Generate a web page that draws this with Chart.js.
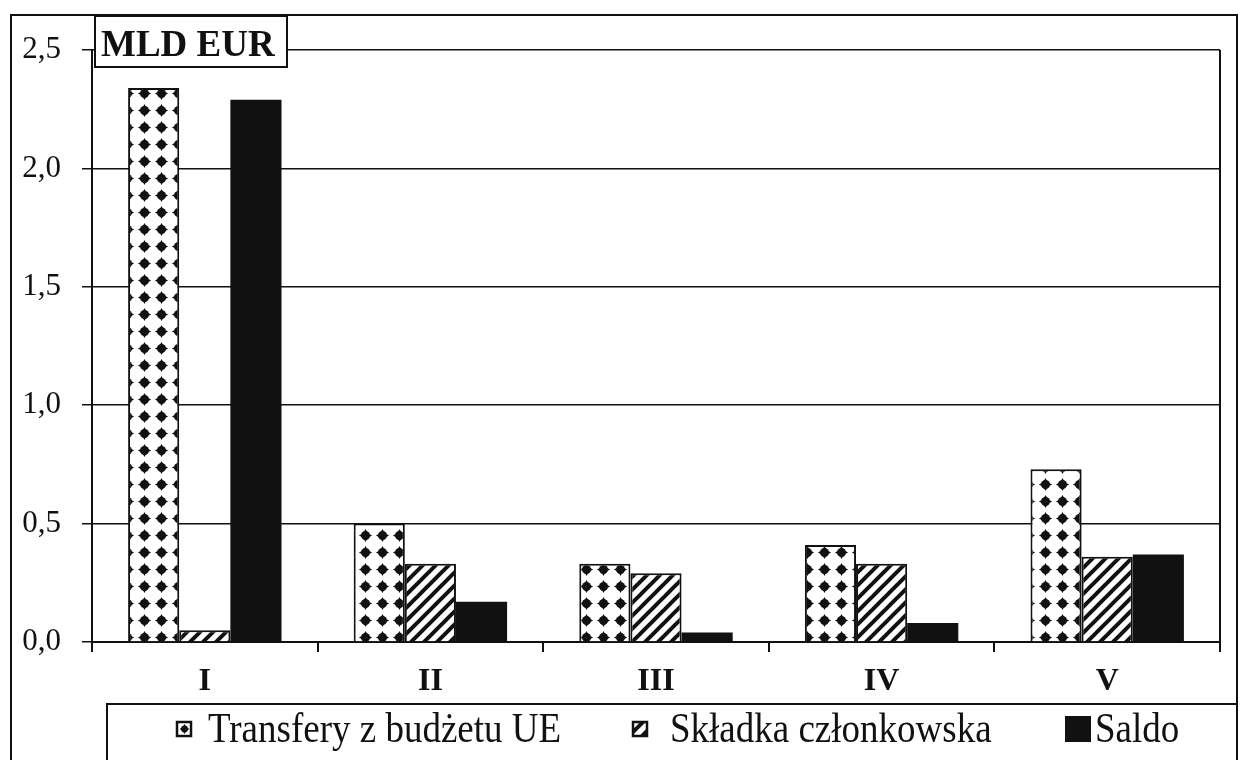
<!DOCTYPE html>
<html>
<head>
<meta charset="utf-8">
<script src="https://cdn.jsdelivr.net/npm/chart.js@4.4.1/dist/chart.umd.min.js"></script>
<style>
  html, body { margin: 0; padding: 0; background: #fff; }
  #wrap { width: 1247px; height: 760px; }
</style>
</head>
<body>
<div id="wrap"><canvas id="chart" width="1247" height="760"></canvas></div>
<script>
// data (MLD EUR)
const categories = ['I', 'II', 'III', 'IV', 'V'];
const seriesNames = ['Transfery z budżetu UE', 'Składka członkowska', 'Saldo'];
const transfery = [2.34, 0.50, 0.33, 0.41, 0.73];
const skladka = [0.05, 0.33, 0.29, 0.33, 0.36];
const saldo = [2.29, 0.17, 0.04, 0.08, 0.37];
const yTickLabels = ['0,0', '0,5', '1,0', '1,5', '2,0', '2,5'];
const unitLabel = 'MLD EUR';

const SERIF = '"Liberation Serif", "Times New Roman", serif';
const INK = '#111';

// star-shaped dot, used for the fill and the legend marker
function drawStar(g, x, y, r) {
    g.beginPath();
    g.arc(x, y, r * 0.68, 0, Math.PI * 2);
    g.fill();
    g.beginPath();
    g.moveTo(x, y - r); g.lineTo(x + r * 0.35, y - r * 0.35); g.lineTo(x + r, y);
    g.lineTo(x + r * 0.35, y + r * 0.35); g.lineTo(x, y + r); g.lineTo(x - r * 0.35, y + r * 0.35);
    g.lineTo(x - r, y); g.lineTo(x - r * 0.35, y - r * 0.35);
    g.closePath();
    g.fill();
}

// dotted fill (white with star dots)
function makeDots() {
    const c = document.createElement('canvas');
    c.width = 17; c.height = 17;
    const g = c.getContext('2d');
    g.fillStyle = '#fff';
    g.fillRect(0, 0, 17, 17);
    g.fillStyle = INK;
    drawStar(g, 8.5, 8.5, 6.6);
    return g.createPattern(c, 'repeat');
}

// diagonal hatch "/"
function makeHatch() {
    const s = 13;
    const c = document.createElement('canvas');
    c.width = s; c.height = s;
    const g = c.getContext('2d');
    g.fillStyle = '#fff';
    g.fillRect(0, 0, s, s);
    g.strokeStyle = INK;
    g.lineWidth = 4;
    [-s, 0, s].forEach(o => {
        g.beginPath();
        g.moveTo(o - 2, s + 2);
        g.lineTo(o + s + 2, -2);
        g.stroke();
    });
    return g.createPattern(c, 'repeat');
}

const dots = makeDots();
const hatch = makeHatch();

// frame, unit box, legend and outer border
const decorations = {
    id: 'decorations',
    afterDraw(chart) {
        const ctx = chart.ctx;
        const a = chart.chartArea;
        ctx.save();
        ctx.strokeStyle = INK;

        // right side of plot frame
        ctx.lineWidth = 2;
        ctx.beginPath();
        ctx.moveTo(a.right, a.top);
        ctx.lineTo(a.right, a.bottom);
        ctx.stroke();

        // outer border
        ctx.strokeRect(11, 15, 1226, 760);

        // unit label box
        ctx.fillStyle = '#fff';
        ctx.fillRect(95, 16, 192, 51);
        ctx.strokeRect(95, 16, 192, 51);
        ctx.fillStyle = INK;
        ctx.font = 'bold 37px ' + SERIF;
        ctx.textBaseline = 'alphabetic';
        ctx.save();
        ctx.translate(101, 56);
        ctx.scale(1, 1.05);
        ctx.fillText(unitLabel, 0, 0);
        ctx.restore();

        // legend box
        ctx.fillStyle = '#fff';
        ctx.fillRect(107, 704, 1130, 70);
        ctx.strokeRect(107, 704, 1130, 70);

        const cy = 729;
        ctx.lineWidth = 2.5;
        // marker 1: white square with a star dot
        ctx.fillStyle = '#fff';
        ctx.fillRect(177, cy - 7, 14, 14);
        ctx.strokeRect(177, cy - 7, 14, 14);
        ctx.fillStyle = INK;
        drawStar(ctx, 184.5, cy, 5);
        // marker 2: hatched square
        ctx.fillStyle = hatch;
        ctx.fillRect(633, cy - 7, 14, 14);
        ctx.strokeRect(633, cy - 7, 14, 14);
        // marker 3: black square
        ctx.fillStyle = INK;
        ctx.fillRect(1065, cy - 13, 26, 26);

        const textX = [208, 670, 1095];
        ctx.font = '37px ' + SERIF;
        seriesNames.forEach((name, i) => {
            ctx.save();
            ctx.translate(textX[i], 742);
            ctx.scale(1, 1.12);
            ctx.fillText(name, 0, 0);
            ctx.restore();
        });
        ctx.restore();
    }
};

const ctx = document.getElementById('chart').getContext('2d');
new Chart(ctx, {
    type: 'bar',
    data: {
        labels: categories,
        datasets: [
            { label: seriesNames[0], data: transfery, backgroundColor: dots, borderColor: INK, borderWidth: 2 },
            { label: seriesNames[1], data: skladka, backgroundColor: hatch, borderColor: INK, borderWidth: 2 },
            { label: seriesNames[2], data: saldo, backgroundColor: INK, borderWidth: 0 }
        ]
    },
    options: {
        responsive: false,
        animation: false,
        layout: { padding: { top: 50, right: 27, left: 0, bottom: 0 } },
        datasets: {
            bar: { categoryPercentage: 0.68, barPercentage: 1.0 }
        },
        scales: {
            x: {
                afterFit: s => { s.height = 118; },
                grid: { drawOnChartArea: false, drawTicks: true, tickLength: 10, color: INK, lineWidth: 2 },
                border: { color: INK, width: 2 },
                ticks: { color: INK, padding: 11, font: { family: SERIF, size: 32, weight: 'bold' } }
            },
            y: {
                min: 0,
                max: 2.5,
                afterFit: s => { s.width = 92; },
                grid: { color: INK, lineWidth: 1.5, tickLength: 10 },
                border: { color: INK, width: 2 },
                ticks: {
                    stepSize: 0.5,
                    color: INK,
                    padding: 21,
                    font: { family: SERIF, size: 31 },
                    callback: (v, i) => yTickLabels[i]
                }
            }
        },
        plugins: {
            legend: { display: false },
            tooltip: { enabled: false }
        }
    },
    plugins: [decorations]
});
</script>
</body>
</html>
